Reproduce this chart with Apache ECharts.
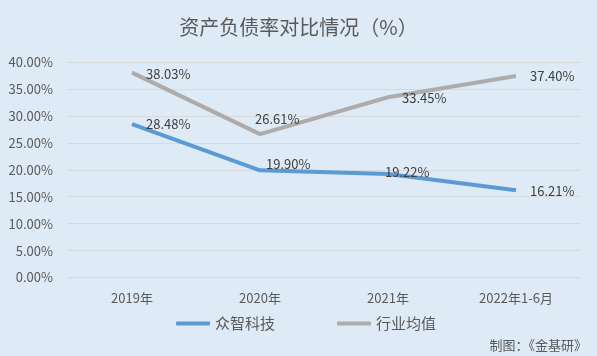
<!DOCTYPE html>
<html><head><meta charset="utf-8">
<script src="https://cdn.jsdelivr.net/npm/echarts@6/dist/echarts.min.js"></script>
<style>html,body{margin:0;padding:0;background:#DEEAF6;}#c{width:597px;height:356px;}</style>
</head><body><div id="c"></div>
<script>
const categories = ['2019年', '2020年', '2021年', '2022年1-6月'];
const zhongzhi = [28.48, 19.90, 19.22, 16.21];
const industry = [38.03, 26.61, 33.45, 37.40];
const seriesNames = ['众智科技', '行业均值'];
const yTicks = [0, 5, 10, 15, 20, 25, 30, 35, 40];

const font = '"Microsoft YaHei", "Noto Sans CJK SC", sans-serif';
const blueOffsets = [[0, 0], [-8, -6], [-17, -2], [0, 1]];
const grayOffsets = [[0, 1], [-19, -15], [0, 1], [0, 0]];
function mk(vals, offs) {
  return vals.map((v, i) => ({ value: v, label: { offset: offs[i] } }));
}
const chart = echarts.init(document.getElementById('c'), null, { renderer: 'canvas' });
chart.setOption({
  backgroundColor: '#DEEAF6',
  animation: false,
  title: {
    text: '资产负债率对比情况（%）', left: 'center', top: 12,
    textStyle: { fontFamily: font, fontSize: 20, fontWeight: 'normal', color: '#595959' }
  },
  grid: { left: 68, right: 17, top: 62, bottom: 78.5 },
  xAxis: {
    type: 'category', data: categories, boundaryGap: true,
    axisLine: { show: false }, axisTick: { show: false },
    axisLabel: { fontFamily: font, fontSize: 13, color: '#595959', margin: 14 }
  },
  yAxis: {
    type: 'value', min: yTicks[0], max: yTicks[yTicks.length - 1], interval: 5,
    axisLine: { show: false }, axisTick: { show: false },
    splitLine: { lineStyle: { color: '#D9D9D9', width: 1 } },
    axisLabel: { fontFamily: font, fontSize: 13, color: '#595959', margin: 15,
      formatter: v => v.toFixed(2) + '%' }
  },
  legend: {
    bottom: 20, left: 171, itemGap: 62, itemWidth: 34, itemHeight: 4,
    icon: 'roundRect',
    textStyle: { fontFamily: font, fontSize: 15, color: '#595959' },
    data: seriesNames
  },
  graphic: [{
    type: 'text', right: 10, bottom: 4,
    style: { text: '制图：《金基研》', font: '13px ' + font, fill: '#595959' }
  }],
  series: [
    {
      name: seriesNames[0], type: 'line', data: mk(zhongzhi, blueOffsets),
      showSymbol: true, symbol: 'circle', symbolSize: 0,
      lineStyle: { color: '#5B9BD5', width: 4 }, itemStyle: { color: '#5B9BD5' },
      label: { show: true, position: 'right', distance: 14, fontFamily: font, fontSize: 13, color: '#404040',
        formatter: p => p.value.toFixed(2) + '%' }
    },
    {
      name: seriesNames[1], type: 'line', data: mk(industry, grayOffsets),
      showSymbol: true, symbol: 'circle', symbolSize: 0,
      lineStyle: { color: '#AFABAB', width: 4 }, itemStyle: { color: '#AFABAB' },
      label: { show: true, position: 'right', distance: 14, fontFamily: font, fontSize: 13, color: '#404040',
        formatter: p => p.value.toFixed(2) + '%' }
    }
  ]
});
</script></body></html>
